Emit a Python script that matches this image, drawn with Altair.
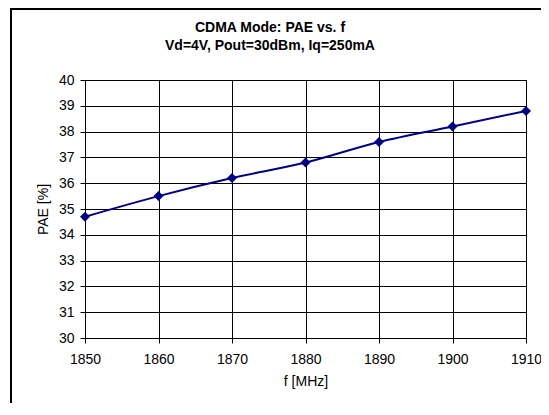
import altair as alt
import pandas as pd

FREQ = [1850, 1860, 1870, 1880, 1890, 1900, 1910]
PAE = [34.7, 35.5, 36.2, 36.8, 37.6, 38.2, 38.8]
X_TICKS = [1850, 1860, 1870, 1880, 1890, 1900, 1910]
Y_TICKS = [30, 31, 32, 33, 34, 35, 36, 37, 38, 39, 40]
TITLE_LINES = ["CDMA Mode: PAE vs. f", "Vd=4V, Pout=30dBm, Iq=250mA"]
X_TITLE = "f [MHz]"
Y_TITLE = "PAE [%]"

FONT = "Liberation Sans"
NAVY = "#000080"

df = pd.DataFrame({"f": FREQ, "pae": PAE})
one = pd.DataFrame({"k": [0]})

x = alt.X(
    "f:Q",
    scale=alt.Scale(domain=[1850, 1910], nice=False, zero=False),
    axis=alt.Axis(
        values=X_TICKS, format="d", title=X_TITLE, labelFlush=False,
        grid=True, gridColor="#000000", gridOpacity=1, gridWidth=1,
        domainColor="#000000", tickColor="#000000", tickSize=5,
        labelFont=FONT, labelFontSize=14, labelColor="#000000", labelPadding=9,
        titleFont=FONT, titleFontSize=14, titleFontWeight="normal",
        titleColor="#000000", titlePadding=8,
    ),
)
y = alt.Y(
    "pae:Q",
    scale=alt.Scale(domain=[30, 40], nice=False, zero=False),
    axis=alt.Axis(
        values=Y_TICKS, format="d", title=Y_TITLE, labelFlush=False,
        grid=True, gridColor="#000000", gridOpacity=1, gridWidth=1,
        domainColor="#000000", tickColor="#000000", tickSize=5,
        labelFont=FONT, labelFontSize=14, labelColor="#000000", labelPadding=6,
        titleFont=FONT, titleFontSize=14, titleFontWeight="normal",
        titleColor="#000000", titlePadding=8,
    ),
)

line = alt.Chart(df).mark_line(color=NAVY, strokeWidth=2, interpolate="monotone").encode(x=x, y=y)
pts = alt.Chart(df).mark_point(shape="diamond", filled=True, color=NAVY, size=100, opacity=1).encode(x=x, y=y)

t1 = alt.Chart(one).mark_text(font=FONT, fontSize=14, fontWeight="bold", align="center",
                              baseline="alphabetic", color="#000000").encode(
    x=alt.value(185), y=alt.value(-48.5), text=alt.value(TITLE_LINES[0]))
t2 = alt.Chart(one).mark_text(font=FONT, fontSize=14, fontWeight="bold", align="center",
                              baseline="alphabetic", color="#000000").encode(
    x=alt.value(185), y=alt.value(-30), text=alt.value(TITLE_LINES[1]))

frame_left = alt.Chart(one).mark_rule(color="#000000", strokeWidth=2).encode(
    x=alt.value(-74), y=alt.value(-71), y2=alt.value(400))
frame_top = alt.Chart(one).mark_rule(color="#000000", strokeWidth=2).encode(
    x=alt.value(-75), x2=alt.value(500), y=alt.value(-71))

chart = alt.layer(line, pts, t1, t2, frame_left, frame_top).properties(
    width=441, height=258,
    autosize=alt.AutoSizeParams(type="none"),
    padding={"left": 77, "top": 72, "right": 15, "bottom": 65},
    background="#ffffff",
).configure_view(stroke="#000000", strokeWidth=1)

chart.save("out.html", embed_options={"renderer": "svg", "actions": False})
